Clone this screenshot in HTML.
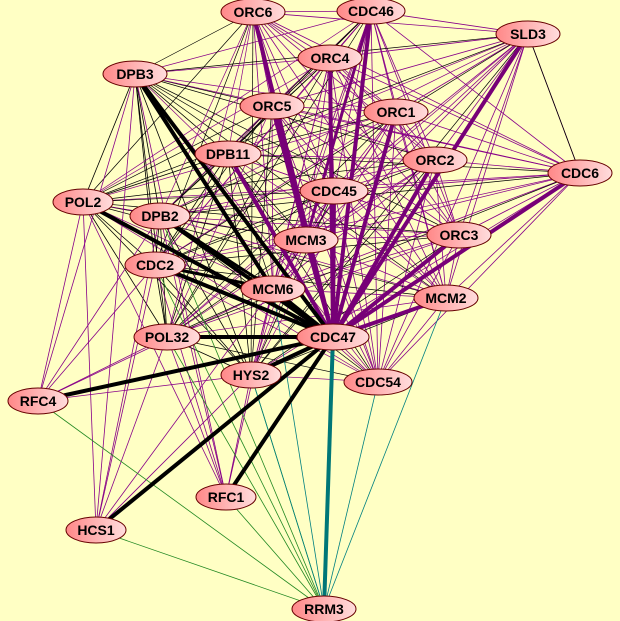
<!DOCTYPE html>
<html><head><meta charset="utf-8"><style>
html,body{margin:0;padding:0;background:#ffffc4;}
svg{display:block}
text{font-family:"Liberation Sans",sans-serif;font-weight:bold;font-size:14px;fill:#000;text-anchor:middle;dominant-baseline:central}
</style></head><body>
<svg id="g" width="620" height="621" xmlns="http://www.w3.org/2000/svg">
<defs><linearGradient id="nf" x1="0" y1="0" x2="1" y2="0"><stop offset="0" stop-color="#f88"/><stop offset="1" stop-color="#fdd"/></linearGradient></defs>
<rect width="620" height="621" fill="#ffffc4"/>
<g id="edges"></g>
<g id="nodes">
<ellipse cx="253" cy="12" rx="32" ry="13" fill="url(#nf)" stroke="#600" /><text x="253" y="12">ORC6</text>
<ellipse cx="371" cy="11" rx="34" ry="13" fill="url(#nf)" stroke="#600" /><text x="371" y="11">CDC46</text>
<ellipse cx="528" cy="34" rx="32" ry="13" fill="url(#nf)" stroke="#600" /><text x="528" y="34">SLD3</text>
<ellipse cx="330" cy="58" rx="32" ry="13" fill="url(#nf)" stroke="#600" /><text x="330" y="58">ORC4</text>
<ellipse cx="135" cy="74" rx="32" ry="13" fill="url(#nf)" stroke="#600" /><text x="135" y="74">DPB3</text>
<ellipse cx="272" cy="106" rx="32" ry="13" fill="url(#nf)" stroke="#600" /><text x="272" y="106">ORC5</text>
<ellipse cx="396" cy="112" rx="32" ry="13" fill="url(#nf)" stroke="#600" /><text x="396" y="112">ORC1</text>
<ellipse cx="228" cy="154" rx="33" ry="13" fill="url(#nf)" stroke="#600" /><text x="228" y="154">DPB11</text>
<ellipse cx="435" cy="160" rx="32" ry="13" fill="url(#nf)" stroke="#600" /><text x="435" y="160">ORC2</text>
<ellipse cx="580" cy="173" rx="32" ry="13" fill="url(#nf)" stroke="#600" /><text x="580" y="173">CDC6</text>
<ellipse cx="83" cy="202" rx="30" ry="13" fill="url(#nf)" stroke="#600" /><text x="83" y="202">POL2</text>
<ellipse cx="334" cy="191" rx="34" ry="13" fill="url(#nf)" stroke="#600" /><text x="334" y="191">CDC45</text>
<ellipse cx="160" cy="216" rx="30" ry="13" fill="url(#nf)" stroke="#600" /><text x="160" y="216">DPB2</text>
<ellipse cx="306" cy="240" rx="32" ry="13" fill="url(#nf)" stroke="#600" /><text x="306" y="240">MCM3</text>
<ellipse cx="459" cy="235" rx="32" ry="13" fill="url(#nf)" stroke="#600" /><text x="459" y="235">ORC3</text>
<ellipse cx="155" cy="265" rx="30" ry="13" fill="url(#nf)" stroke="#600" /><text x="155" y="265">CDC2</text>
<ellipse cx="273" cy="289" rx="32" ry="13" fill="url(#nf)" stroke="#600" /><text x="273" y="289">MCM6</text>
<ellipse cx="446" cy="298" rx="32" ry="13" fill="url(#nf)" stroke="#600" /><text x="446" y="298">MCM2</text>
<ellipse cx="333" cy="337" rx="36" ry="13" fill="url(#nf)" stroke="#600" /><text x="333" y="337">CDC47</text>
<ellipse cx="167" cy="337" rx="33" ry="13" fill="url(#nf)" stroke="#600" /><text x="167" y="337">POL32</text>
<ellipse cx="251" cy="375" rx="30" ry="13" fill="url(#nf)" stroke="#600" /><text x="251" y="375">HYS2</text>
<ellipse cx="378" cy="382" rx="34" ry="13" fill="url(#nf)" stroke="#600" /><text x="378" y="382">CDC54</text>
<ellipse cx="38" cy="401" rx="30" ry="13" fill="url(#nf)" stroke="#600" /><text x="38" y="401">RFC4</text>
<ellipse cx="226" cy="497" rx="30" ry="13" fill="url(#nf)" stroke="#600" /><text x="226" y="497">RFC1</text>
<ellipse cx="96" cy="530" rx="30" ry="13" fill="url(#nf)" stroke="#600" /><text x="96" y="530">HCS1</text>
<ellipse cx="324" cy="609" rx="32" ry="13" fill="url(#nf)" stroke="#600" /><text x="324" y="609">RRM3</text>
</g>
</svg>
<script>
var P={ORC6:[253,12],CDC46:[371,11],SLD3:[528,34],ORC4:[330,58],DPB3:[135,74],ORC5:[272,106],ORC1:[396,112],DPB11:[228,154],ORC2:[435,160],CDC6:[580,173],POL2:[83,202],CDC45:[334,191],DPB2:[160,216],MCM3:[306,240],ORC3:[459,235],CDC2:[155,265],MCM6:[273,289],MCM2:[446,298],CDC47:[333,337],POL32:[167,337],HYS2:[251,375],CDC54:[378,382],RFC4:[38,401],RFC1:[226,497],HCS1:[96,530],RRM3:[324,609]};
var g=document.getElementById('edges'),out='';
function L(a,b,c,w){out+='<line x1="'+P[a][0]+'" y1="'+P[a][1]+'" x2="'+P[b][0]+'" y2="'+P[b][1]+'" stroke="'+c+'" stroke-width="'+w+'"/>';}
var rep=['ORC6','CDC46','SLD3','ORC4','ORC5','ORC1','ORC2','CDC6','CDC45','MCM3','ORC3','MCM6','MCM2','CDC54','CDC47'];
var pol=['DPB3','DPB11','POL2','DPB2','CDC2','POL32','HYS2'];
for(var i=0;i<rep.length;i++)for(var j=i+1;j<rep.length;j++)L(rep[i],rep[j],'#880088',0.8);
for(var i=0;i<pol.length;i++){for(var j=i+1;j<pol.length;j++)L(pol[i],pol[j],'#000',0.8);
 for(var j=0;j<rep.length;j++)L(pol[i],rep[j],(i+j)%2?'#880088':'#000',0.7);}
['POL2','DPB2','CDC2','POL32','HYS2','DPB3','MCM6','CDC47'].forEach(function(n){L('RFC4',n,'#880088',0.8);L('RFC1',n,'#880088',0.8);L('HCS1',n,n=='CDC47'?'#000':'#880088',0.8);});
['RFC4','HCS1','POL32','HYS2','RFC1','CDC2','DPB2'].forEach(function(n){L('RRM3',n,'#228822',0.8);});
['MCM2','CDC54','HYS2','MCM6'].forEach(function(n){L('RRM3',n,'#008080',0.8);});
L('SLD3','CDC6','#000',0.8);
['ORC6','CDC46','ORC4','ORC5','ORC1','ORC2','SLD3','CDC6','ORC3','MCM2','CDC45','DPB11','MCM3'].forEach(function(n){L('CDC47',n,'#770077',4);});
['DPB3','DPB2','CDC2','POL32','RFC4','HCS1','RFC1','POL2','MCM6','HYS2'].forEach(function(n){L('CDC47',n,'#000',4);});
L('CDC47','RRM3','#007777',4);
L('DPB3','MCM6','#000',4);L('DPB2','MCM6','#000',3);L('CDC2','MCM6','#000',3);L('ORC6','MCM3','#770077',3);L('CDC46','MCM3','#770077',3);
g.innerHTML=out;
</script>
</body></html>
